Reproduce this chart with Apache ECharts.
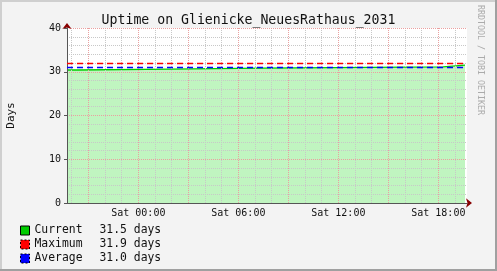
<!DOCTYPE html>
<html>
<head>
<meta charset="utf-8">
<script src="https://cdn.jsdelivr.net/npm/echarts@6/dist/echarts.min.js"></script>
<style>
html,body{margin:0;padding:0;background:#f3f3f3;}
#c{width:497px;height:271px;}
</style>
</head>
<body>
<div id="c"></div>
<script>
// ---- data (hours counted from Fri 00:00) ----
const startHour = 19.72;
const endHour = 43.72;
const stepHours = [19.72, 20.38, 25.9, 31.42, 42.28, 43.6];
const uptimeDays = [30.4, 30.6, 30.85, 31.1, 31.5, 31.5];
const maxDays = 31.9;
const avgDays = 31.0;
const legendNames = ['Current', 'Maximum', 'Average'];
const legendValues = ['31.5', '31.9', '31.0'];
const tickHours = [24, 30, 36, 42];
const tickLabels = ['Sat 00:00', 'Sat 06:00', 'Sat 12:00', 'Sat 18:00'];
const majorGridHours = [21, 24, 27, 30, 33, 36, 39, 42];
const minorGridHours = [20, 22, 23, 25, 26, 28, 29, 31, 32, 34, 35, 37, 38, 40, 41, 43];
const yTicks = [0, 10, 20, 30, 40];

const FONT = 'DejaVu Sans Mono';
const chart = echarts.init(document.getElementById('c'), null, {renderer: 'canvas'});

const currentData = stepHours.map((h, i) => [h, uptimeDays[i]]);
const maxData = [[startHour, maxDays], [endHour, maxDays]];
const avgData = [[startHour, avgDays], [endHour, avgDays]];

const majorLine = {show: true, lineStyle: {color: '#eaa0a0', width: 1, type: [1, 1]}};
const minorLine = {show: true, lineStyle: {color: '#c8c8c8', width: 1, type: [1, 1]}};

chart.setOption({
  animation: false,
  backgroundColor: '#f3f3f3',
  title: {
    text: 'Uptime on Glienicke_NeuesRathaus_2031',
    left: 'center', top: 9,
    textStyle: {fontFamily: FONT, fontSize: 13.2, fontWeight: 'normal', color: '#111'}
  },
  legend: {
    orient: 'vertical', left: 15, top: 219, height: 60,
    itemWidth: 9, itemHeight: 9, itemGap: 1,
    selectedMode: false,
    data: [
      {name: 'Current', icon: 'rect', itemStyle: {color: '#00cc00', borderColor: '#000', borderWidth: 1}},
      {name: 'Maximum', icon: 'rect', itemStyle: {color: '#ff0000', borderColor: '#000', borderWidth: 1, borderType: [2, 2]}},
      {name: 'Average', icon: 'rect', itemStyle: {color: '#0000ff', borderColor: '#000', borderWidth: 1, borderType: [2, 2]}}
    ],
    formatter: function (name) {
      const i = legendNames.indexOf(name);
      return '{n|' + name + '}{v|' + legendValues[i] + ' days}';
    },
    textStyle: {
      fontFamily: FONT, fontSize: 11.4, color: '#111', lineHeight: 13,
      rich: {n: {width: 65, fontFamily: FONT, fontSize: 11.4, color: '#111', lineHeight: 13}, v: {fontFamily: FONT, fontSize: 11.4, color: '#111', lineHeight: 13}}
    }
  },
  grid: {left: 67, right: 30, top: 28, bottom: 68, show: true, backgroundColor: '#ffffff', borderWidth: 0, outerBoundsMode: 'none', containLabel: false},
  xAxis: [
    {
      type: 'value', min: startHour, max: endHour, z: 6,
      axisLine: {show: true, lineStyle: {color: '#555', width: 1}},
      axisTick: {show: false, customValues: majorGridHours},
      axisLabel: {
        show: true, customValues: tickHours, margin: 5,
        fontFamily: FONT, fontSize: 10, color: '#111',
        formatter: function (v) { const i = tickHours.indexOf(v); return i >= 0 ? tickLabels[i] : ''; }
      },
      splitLine: majorLine
    },
    {
      type: 'value', min: startHour, max: endHour, z: 5, position: 'bottom',
      axisLine: {show: true, symbol: ['none', 'arrow'], symbolSize: [7, 6], symbolOffset: [0, 5], lineStyle: {color: '#880000', width: 1}},
      axisTick: {show: false, customValues: minorGridHours},
      axisLabel: {show: false},
      splitLine: minorLine
    }
  ],
  yAxis: [
    {
      type: 'value', min: 0, max: 40, interval: 10, z: 6,
      name: 'Days', nameLocation: 'middle', nameGap: 50,
      nameTextStyle: {fontFamily: FONT, fontSize: 11, color: '#111'},
      axisLine: {show: true, lineStyle: {color: '#555', width: 1}},
      axisTick: {show: true, length: 3, lineStyle: {color: '#555'}},
      axisLabel: {fontFamily: FONT, fontSize: 10, color: '#111', margin: 6,
        formatter: function (v) { return yTicks.indexOf(v) >= 0 ? String(v) : ''; }},
      splitLine: majorLine,
      minorTick: {show: false, splitNumber: 5},
      minorSplitLine: minorLine
    },
    {
      type: 'value', min: 0, max: 40, interval: 10, z: 5, position: 'left',
      axisLine: {show: true, symbol: ['none', 'arrow'], symbolSize: [7, 6], symbolOffset: [0, 5], lineStyle: {color: '#880000', width: 1}},
      axisTick: {show: false}, axisLabel: {show: false}, splitLine: {show: false}
    }
  ],
  series: [
    {
      name: 'Current', type: 'line', step: 'end', data: currentData, z: 2,
      symbol: 'none', showSymbol: false,
      lineStyle: {color: '#00cc00', width: 1.3},
      itemStyle: {color: '#00cc00'},
      areaStyle: {color: '#c0f5c0', opacity: 1, origin: 'start'}
    },
    {
      name: 'Maximum', type: 'line', data: maxData, z: 8,
      symbol: 'none', showSymbol: false,
      lineStyle: {color: '#ff0000', width: 1.5, type: [6, 4]},
      itemStyle: {color: '#ff0000'}
    },
    {
      name: 'Average', type: 'line', data: avgData, z: 8,
      symbol: 'none', showSymbol: false,
      lineStyle: {color: '#0000ff', width: 1.5, type: [6, 4]},
      itemStyle: {color: '#0000ff'}
    }
  ],
  graphic: [
    {type: 'rect', left: 0, top: 0, shape: {width: 497, height: 2}, style: {fill: '#cfcfcf'}, silent: true},
    {type: 'rect', left: 0, top: 0, shape: {width: 2, height: 271}, style: {fill: '#cfcfcf'}, silent: true},
    {type: 'rect', left: 0, top: 269, shape: {width: 497, height: 2}, style: {fill: '#a0a0a0'}, silent: true},
    {type: 'rect', left: 495, top: 0, shape: {width: 2, height: 271}, style: {fill: '#a0a0a0'}, silent: true},
    {
      type: 'text', x: 484, y: 5, rotation: -Math.PI / 2, silent: true,
      style: {text: 'RRDTOOL / TOBI OETIKER', fontFamily: FONT, fontSize: 8.3, fill: '#ababab', textAlign: 'left', textVerticalAlign: 'top'}
    }
  ]
});
</script>
</body>
</html>
